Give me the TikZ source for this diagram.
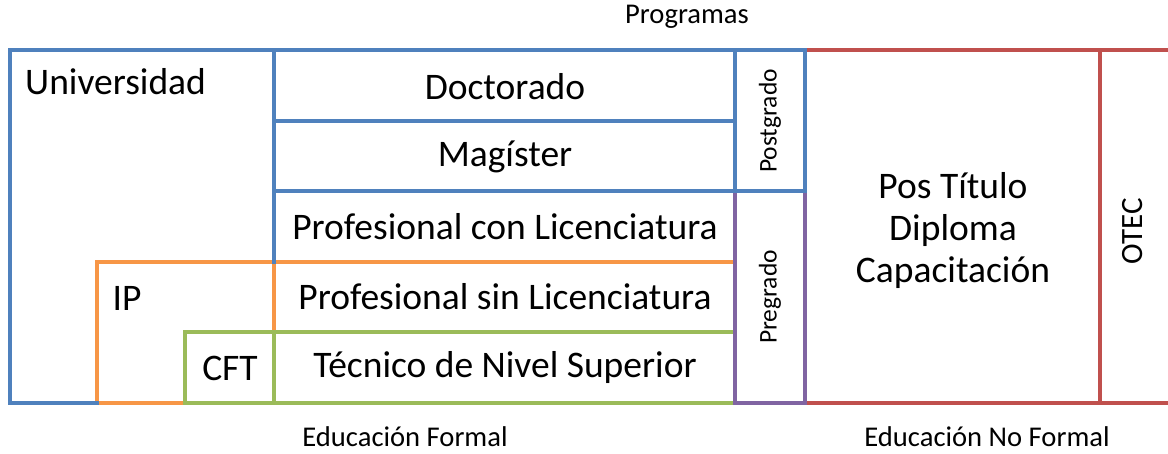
\documentclass[tikz,border=0pt]{standalone}
\usepackage{fontspec}
\setmainfont{Carlito}
\definecolor{cblue}{HTML}{4F81BD}
\definecolor{cred}{HTML}{C0504D}
\definecolor{corange}{HTML}{F79646}
\definecolor{cgreen}{HTML}{9BBB59}
\definecolor{cpurple}{HTML}{8064A2}
\begin{document}
\begin{tikzpicture}[x=1pt,y=-1pt,
  ln/.style={line width=3.6pt,line cap=rect,line join=miter},
  big/.style={font=\fontsize{37.5}{42}\selectfont,inner sep=0pt},
  small/.style={font=\fontsize{28.6}{32}\selectfont,inner sep=0pt},
  rot/.style={font=\fontsize{25.5}{28}\selectfont,inner sep=0pt,rotate=90}]
\useasboundingbox (0,0) rectangle (1168,454);
% red (non formal)
\draw[ln,cred] (1175,50) -- (805,50) -- (805,403) -- (1175,403);
\draw[ln,cred] (1100,50) -- (1100,403);
% orange (IP)
\draw[ln,corange] (735,262) -- (97,262) -- (97,403) -- (185,403);
\draw[ln,corange] (274,262) -- (274,332);
% green (CFT)
\draw[ln,cgreen] (185,403) -- (185,332) -- (735,332);
\draw[ln,cgreen] (185,403) -- (735,403);
\draw[ln,cgreen] (274,332) -- (274,403);
% purple (Pregrado)
\draw[ln,cpurple] (735,191) rectangle (805,403);
% blue (Universidad)
\draw[ln,cblue] (97,403) -- (10,403) -- (10,50) -- (805,50) -- (805,191);
\draw[ln,cblue] (274,50) -- (274,262);
\draw[ln,cblue] (735,50) -- (735,191);
\draw[ln,cblue] (274,121) -- (735,121);
\draw[ln,cblue] (274,191) -- (805,191);
% texts
\node[big,anchor=west] (univ) at (25,82) {Universidad};
\node[big] (doc) at (505,87) {Doctorado};
\node[big] (mag) at (505,157) {Magíster};
\node[big] (pcl) at (505,227) {Profesional con Licenciatura};
\node[big] (psl) at (505,297) {Profesional sin Licenciatura};
\node[big] (tns) at (505,368) {Técnico de Nivel Superior};
\node[big] (ip) at (127,298) {IP};
\node[big] (cft) at (230,368) {CFT};
\node[rot] (post) at (770,121) {Postgrado};
\node[rot] (pre) at (770,297) {Pregrado};
\node[inner sep=0pt,rotate=90,font=\fontsize{31}{34}\selectfont] (otec) at (1133,231) {OTEC};
\node[align=center,inner sep=0pt,font=\fontsize{37.5}{42}\selectfont] (pos) at (953,231) {Pos Título\\Diploma\\Capacitación};
\node[small] (prog) at (687,17) {Programas};
\node[small] (ef) at (405,437) {Educación Formal};
\node[small] (enf) at (987,437) {Educación No Formal};
\end{tikzpicture}
\end{document}
